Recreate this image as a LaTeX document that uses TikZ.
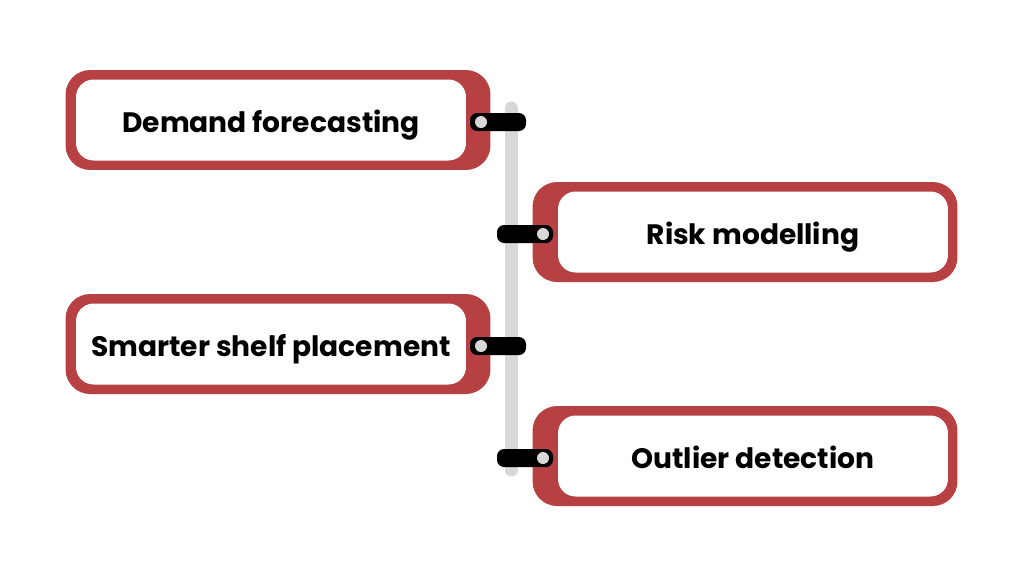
\documentclass[tikz,border=0pt]{standalone}
\usepackage{fontspec}
\setmainfont{Poppins}
\definecolor{boxred}{RGB}{183,64,66}
\definecolor{bargray}{RGB}{216,216,216}
\newcommand{\cardtext}[1]{\raisebox{-7pt}[0pt][0pt]{#1}}
\begin{document}
\begin{tikzpicture}[x=0.02cm,y=-0.02cm,font=\fontsize{16}{19}\selectfont\bfseries]
\tikzset{
% outer red frame and inner white card
frame/.style={fill=boxred,rounded corners=14pt,inner sep=0,minimum width=8.5cm,minimum height=2cm},
card/.style={fill=white,rounded corners=10pt,inner sep=0,minimum width=7.8cm,minimum height=1.62cm},
peg/.style={fill=black,rounded corners=4pt,inner sep=0,minimum width=1.12cm,minimum height=0.36cm},
dot/.style={circle,fill=bargray,inner sep=0,minimum size=0.24cm}
}
\useasboundingbox (0,0) rectangle (1024,576);

% the gray spine
\coordinate (top) at (511,108);
\coordinate (bot) at (511,470);
\draw[bargray,line width=0.26cm,line cap=round] (top) -- (bot);

% left items
\node(f1)[frame] at (278,120) {};
\node(c1)[card] at (271,120) {\cardtext{Demand forecasting}};
\node(f3)[frame] at (278,344) {};
\node(c3)[card] at (271,344) {\cardtext{Smarter shelf placement}};
% right items
\node(f2)[frame] at (745,232) {};
\node(c2)[card] at (753,232) {\cardtext{Risk modelling}};
\node(f4)[frame] at (745,456) {};
\node(c4)[card] at (753,456) {\cardtext{Outlier detection}};

% pegs on the spine
\node(p1)[peg] at (498,122) {};
\node(d1)[dot] at (481,122) {};
\node(p2)[peg] at (525,234) {};
\node(d2)[dot] at (543,234) {};
\node(p3)[peg] at (498,346) {};
\node(d3)[dot] at (481,346) {};
\node(p4)[peg] at (525,458) {};
\node(d4)[dot] at (543,458) {};
\end{tikzpicture}
\end{document}
